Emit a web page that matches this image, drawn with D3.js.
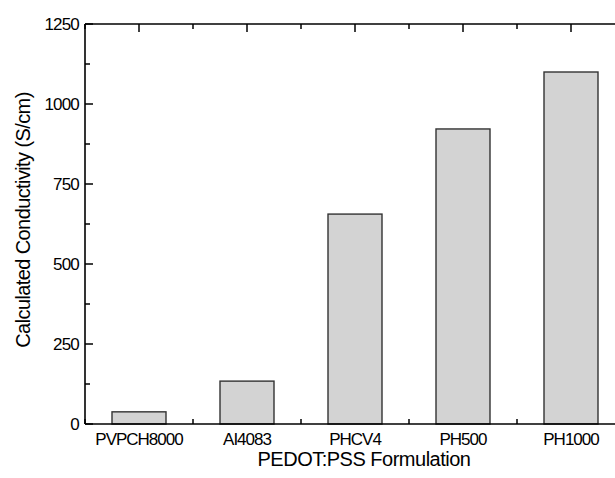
<!DOCTYPE html>
<html>
<head>
<meta charset="utf-8">
<script src="https://cdn.jsdelivr.net/npm/d3@7"></script>
<style>
  html, body { margin: 0; padding: 0; background: #fff; }
  svg { display: block; font-family: 'Liberation Sans', Arial, sans-serif; }
</style>
</head>
<body>
<div id="chart"></div>
<script>
'use strict';

// formulations and their conductivity (S/cm)
var formulations = ['PVPCH8000', 'AI4083', 'PHCV4', 'PH500', 'PH1000'];
var conductivity = [38, 134, 656, 922, 1100];
var yTicks = [0, 250, 500, 750, 1000, 1250];
var yMinorTicks = [125, 375, 625, 875, 1125];

var width = 615, height = 478;
var plotLeft = 85, plotRight = 625, plotTop = 24, plotBottom = 424;

var svg = d3.select('#chart')
  .append('svg')
  .attr('width', width)
  .attr('height', height);

var x = d3.scaleBand()
  .domain(formulations)
  .range([plotLeft, plotRight])
  .paddingInner(0.5)
  .paddingOuter(0.25);

var y = d3.scaleLinear()
  .domain([0, 1250])
  .range([plotBottom, plotTop]);

var step = x.step();
var centers = formulations.map(function(f){ return x(f) + x.bandwidth() / 2; });
var between = centers.map(function(c){ return c - step / 2; });
between.push(centers[centers.length - 1] + step / 2);

// bars
svg.selectAll('rect.bar')
  .data(formulations)
  .enter()
  .append('rect')
  .attr('class', 'bar')
  .attr('x', function(d){ return x(d); })
  .attr('y', function(d, i){ return y(conductivity[i]); })
  .attr('width', x.bandwidth())
  .attr('height', function(d, i){ return y(0) - y(conductivity[i]); })
  .attr('fill', '#d3d3d3')
  .attr('stroke', '#333')
  .attr('stroke-width', 1.4);

var axisColor = '#000';

// frame lines
svg.append('line')
  .attr('x1', plotLeft).attr('y1', plotTop).attr('x2', plotRight).attr('y2', plotTop)
  .attr('stroke', axisColor).attr('stroke-width', 1.6);
svg.append('line')
  .attr('x1', plotLeft).attr('y1', plotBottom).attr('x2', plotRight).attr('y2', plotBottom)
  .attr('stroke', axisColor).attr('stroke-width', 1.6);
svg.append('line')
  .attr('x1', plotLeft).attr('y1', plotTop).attr('x2', plotLeft).attr('y2', plotBottom)
  .attr('stroke', axisColor).attr('stroke-width', 1.6);

// y ticks (inward)
var yt = svg.append('g');
yTicks.forEach(function(t){
  yt.append('line')
    .attr('x1', plotLeft).attr('x2', plotLeft + 8)
    .attr('y1', y(t)).attr('y2', y(t))
    .attr('stroke', axisColor).attr('stroke-width', 1.5);
  yt.append('text')
    .attr('x', plotLeft - 6)
    .attr('y', y(t))
    .attr('dy', '0.36em')
    .attr('text-anchor', 'end')
    .attr('font-size', 17)
    .attr('letter-spacing', -0.8)
    .text(t);
});
yMinorTicks.forEach(function(t){
  yt.append('line')
    .attr('x1', plotLeft).attr('x2', plotLeft + 5)
    .attr('y1', y(t)).attr('y2', y(t))
    .attr('stroke', axisColor).attr('stroke-width', 1.5);
});

// x ticks: major at centers, minor between, on top and bottom
var xt = svg.append('g');
centers.forEach(function(c){
  xt.append('line')
    .attr('x1', c).attr('x2', c).attr('y1', plotTop).attr('y2', plotTop + 8)
    .attr('stroke', axisColor).attr('stroke-width', 1.5);
});
between.forEach(function(c){
  xt.append('line')
    .attr('x1', c).attr('x2', c).attr('y1', plotTop).attr('y2', plotTop + 5)
    .attr('stroke', axisColor).attr('stroke-width', 1.5);
  xt.append('line')
    .attr('x1', c).attr('x2', c).attr('y1', plotBottom).attr('y2', plotBottom - 5)
    .attr('stroke', axisColor).attr('stroke-width', 1.5);
});

// category labels
svg.selectAll('text.cat')
  .data(formulations)
  .enter()
  .append('text')
  .attr('class', 'cat')
  .attr('x', function(d){ return x(d) + x.bandwidth() / 2; })
  .attr('y', 445)
  .attr('text-anchor', 'middle')
  .attr('font-size', 17)
  .attr('letter-spacing', -1)
  .text(function(d){ return d; });

// axis titles
svg.append('text')
  .attr('x', 364)
  .attr('y', 466)
  .attr('text-anchor', 'middle')
  .attr('font-size', 20)
  .attr('letter-spacing', -0.5)
  .text('PEDOT:PSS Formulation');

svg.append('text')
  .attr('transform', 'translate(30,220) rotate(-90)')
  .attr('text-anchor', 'middle')
  .attr('font-size', 20)
  .attr('letter-spacing', -0.6)
  .text('Calculated Conductivity (S/cm)');
</script>
</body>
</html>
